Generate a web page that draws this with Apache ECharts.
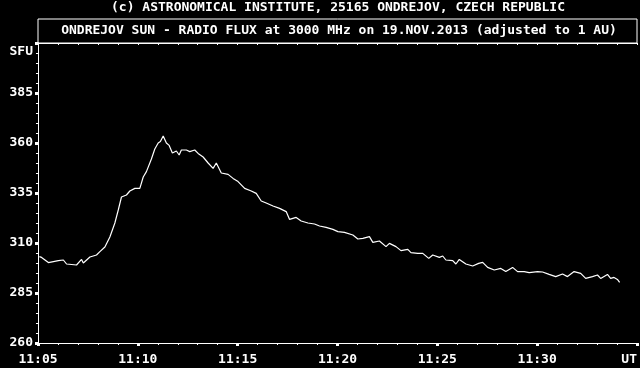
<!DOCTYPE html>
<html>
<head>
<meta charset="utf-8">
<script src="https://cdn.jsdelivr.net/npm/echarts@6/dist/echarts.min.js"></script>
<style>
html,body{margin:0;padding:0;background:#000;}
#c{width:640px;height:368px;}
</style>
</head>
<body>
<div id="c"></div>
<script>
// Time in minutes after 11:05 UT
var minutes = [0.07,0.18,0.52,1.02,1.27,1.43,1.93,2.18,2.27,2.6,2.93,3.1,3.35,3.6,3.85,4.02,4.18,4.43,4.6,4.85,5.1,5.27,5.43,5.68,5.85,6.02,6.13,6.27,6.43,6.57,6.73,6.93,7.07,7.18,7.43,7.6,
7.85,8.02,8.27,8.52,8.77,8.93,9.18,9.52,9.77,10.02,10.35,10.68,10.93,11.18,11.43,11.77,12.1,12.43,12.6,12.93,13.18,13.52,13.85,14.1,14.43,14.77,
15.02,15.35,15.77,16.02,16.27,16.6,16.77,17.1,17.43,17.6,17.93,18.18,18.52,18.68,19.02,19.27,19.57,19.77,20.1,20.27,20.43,20.77,20.93,21.1,21.43,21.77,22.07,
22.27,22.52,22.85,23.18,23.43,23.77,24.02,24.35,24.6,25.02,25.27,25.6,25.93,26.27,26.52,26.85,27.18,27.43,27.77,28.02,28.18,28.52,28.68,28.85,29.02,29.13];
// Radio flux in SFU
var flux = [303.2,302.8,300.2,301.2,301.5,299.5,299,301.8,300,303,304,305.7,308,313,320,326.5,333,334,336,337.3,337.3,343,345.7,352,357,360,360.7,363.5,360,358.8,355,356,354,356.5,356.5,355.7,
356.5,354.8,353,350,347.3,350,345,344.3,342.3,340.7,337.3,336,334.8,331,330,328.5,327.3,325.7,321.8,322.8,321,320,319.5,318.5,317.8,316.8,
315.7,315.3,314,312,312.3,313.2,310.3,311,308.2,309.8,308.2,306.2,306.8,305.2,304.8,304.8,302.3,304,302.8,303.5,301.5,301.2,299.5,301.8,299.5,298.5,299.8,
300.3,297.8,296.5,297.3,295.7,297.8,295.7,295.7,295.2,295.7,295.5,294.3,293.2,294.5,293.2,295.7,294.8,292.3,293.2,294,292.3,294.3,292.3,292.8,291.8,290.3];
var xTickLabels = ['11:05','11:10','11:15','11:20','11:25','11:30','UT'];
var yTickValues = [260,285,310,335,360,385];
var titleTop = '(c) ASTRONOMICAL INSTITUTE, 25165 ONDREJOV, CZECH REPUBLIC';
var titleBox = 'ONDREJOV SUN - RADIO FLUX at 3000 MHz on 19.NOV.2013 (adjusted to 1 AU)';
var yUnit = 'SFU';

var FONT = '"DejaVu Sans Mono", monospace';
var data = minutes.map(function(m,i){return [m, flux[i]];});
var chart = echarts.init(document.getElementById('c'), null, {renderer:'canvas'});
chart.setOption({
  backgroundColor:'#000',
  animation:false,
  grid:{left:38, right:3, top:43, bottom:25, containLabel:false},
  xAxis:[{
    type:'value', min:0, max:30, interval:5, position:'bottom',
    axisLine:{show:true, lineStyle:{color:'#fff', width:1}},
    axisTick:{show:true, length:3, lineStyle:{color:'#fff', width:3}},
    minorTick:{show:true, splitNumber:5, length:2, lineStyle:{color:'#fff', width:1}},
    splitLine:{show:false},
    axisLabel:{color:'#fff', fontFamily:FONT, fontWeight:'bold', fontSize:13, margin:10,
      alignMaxLabel:'right',
      formatter:function(v){return xTickLabels[Math.round(v/5)];}}
  },{
    type:'value', min:0, max:30, interval:1, position:'top',
    axisLine:{show:true, lineStyle:{color:'#fff', width:1}},
    axisTick:{show:true, inside:true, length:2, lineStyle:{color:'#fff', width:1}},
    axisLabel:{show:false}, splitLine:{show:false}
  }],
  yAxis:[{
    type:'value', min:260, max:410, interval:25, position:'left',
    axisLine:{show:true, lineStyle:{color:'#fff', width:1}},
    axisTick:{show:true, length:3, lineStyle:{color:'#fff', width:3}},
    minorTick:{show:true, splitNumber:5, length:2, lineStyle:{color:'#fff', width:1}},
    splitLine:{show:false},
    axisLabel:{color:'#fff', fontFamily:FONT, fontWeight:'bold', fontSize:13, margin:5,
      formatter:function(v){return yTickValues.indexOf(v) >= 0 ? String(v) : '';}}
  },{
    type:'value', min:260, max:410, position:'right',
    axisLine:{show:true, lineStyle:{color:'#fff', width:1}},
    axisTick:{show:false}, axisLabel:{show:false}, splitLine:{show:false}
  }],
  graphic:[
    {type:'rect', shape:{x:38, y:19, width:599, height:24}, style:{fill:null, stroke:'#fff', lineWidth:1}, z:10},
    {type:'text', x:338, y:8, style:{text:titleTop, fill:'#fff', font:'bold 13px '+FONT, textAlign:'center', textVerticalAlign:'middle'}},
    {type:'text', x:339, y:31, style:{text:titleBox, fill:'#fff', font:'bold 13px '+FONT, textAlign:'center', textVerticalAlign:'middle'}},
    {type:'text', x:33, y:52, style:{text:yUnit, fill:'#fff', font:'bold 13px '+FONT, textAlign:'right', textVerticalAlign:'middle'}}
  ],
  series:[{
    type:'line', data:data, showSymbol:false, smooth:false,
    lineStyle:{color:'#fff', width:1.2}, itemStyle:{color:'#fff'}
  }]
});
</script>
</body>
</html>
